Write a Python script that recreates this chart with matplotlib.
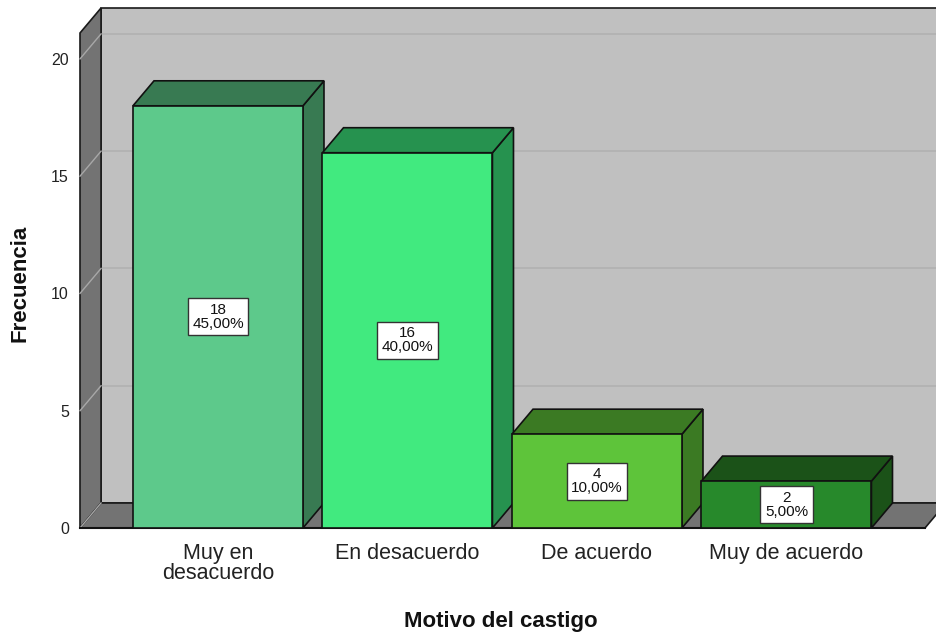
import matplotlib.pyplot as plt
from matplotlib.patches import Polygon

plt.rcParams['font.family'] = ['Liberation Sans', 'DejaVu Sans']

# data
categorias = ['Muy en\ndesacuerdo', 'En desacuerdo', 'De acuerdo', 'Muy de acuerdo']
frecuencias = [18, 16, 4, 2]
porcentajes = ['45,00%', '40,00%', '10,00%', '5,00%']
ticks_y = [0, 5, 10, 15, 20]

frente = ['#5dc98b', '#41ea7f', '#5ec43a', '#27892b']
lado = ['#387a52', '#26924f', '#3b7a23', '#1b5218']

# 3d look: depth offsets in data units
dx, dy = 0.111, 1.066
x0, x1 = -0.728, 3.731
ytop = 22.17
ancho = 0.897

fig = plt.figure(figsize=(9.36, 6.35), dpi=100)
ax = fig.add_axes([80 / 936, 107 / 635, 856 / 936, 520 / 635])
ax.set_xlim(x0, x0 + 856 / 189.5)
ax.set_ylim(0, ytop)
for s in ax.spines.values():
    s.set_visible(False)

# walls and floor
pared = Polygon([(x0 + dx, dy), (x1 + dx + 0.2, dy), (x1 + dx + 0.2, ytop), (x0 + dx, ytop)],
                closed=True, fc='#c0c0c0', ec='#1a1a1a', lw=1.2, clip_on=False, zorder=1)
ax.add_patch(pared)
izq = Polygon([(x0, 0), (x0 + dx, dy), (x0 + dx, ytop), (x0, ytop - dy)],
              closed=True, fc='#737373', ec='#1a1a1a', lw=1.2, clip_on=False, zorder=2)
ax.add_patch(izq)
suelo = Polygon([(x0, 0), (x1, 0), (x1 + dx, dy), (x0 + dx, dy)],
                closed=True, fc='#737373', ec='#1a1a1a', lw=1.2, clip_on=False, zorder=2)
ax.add_patch(suelo)

for v in ticks_y[1:]:
    ax.plot([x0 + dx, x1 + dx + 0.2], [v + dy, v + dy], color='#b2b2b2', lw=1.3, zorder=1.5, clip_on=False)
    ax.plot([x0, x0 + dx], [v, v + dy], color='#a8a8a8', lw=1.0, zorder=2.5, clip_on=False)
ax.plot([x0, x0 + dx], [0, dy], color='#a8a8a8', lw=1.0, zorder=2.5, clip_on=False)

# bars
for i, (f, p) in enumerate(zip(frecuencias, porcentajes)):
    a, b = i - ancho / 2, i + ancho / 2
    z = 5 + i
    ax.add_patch(Polygon([(b, 0), (b + dx, dy), (b + dx, f + dy), (b, f)],
                         closed=True, fc=lado[i], ec='#111111', lw=1.2, zorder=z))
    ax.add_patch(Polygon([(a, f), (a + dx, f + dy), (b + dx, f + dy), (b, f)],
                         closed=True, fc=lado[i], ec='#111111', lw=1.2, zorder=z))
    ax.bar(i, f, width=ancho, color=frente[i], edgecolor='#111111', lw=1.2, zorder=z)
    ax.text(i, f / 2, '%d\n%s' % (f, p), ha='center', va='center', fontsize=11,
            linespacing=1.0, zorder=20, color='#111111',
            bbox=dict(boxstyle='square,pad=0.3', fc='white', ec='#333333', lw=1))

ax.plot([x0, x1], [0, 0], color='#111111', lw=1.5, zorder=4, clip_on=False)

ax.set_xticks(range(len(categorias)))
ax.set_xticklabels(categorias, fontsize=15.5, linespacing=0.95)
ax.tick_params(axis='x', length=0, pad=11, colors='#222222')
ax.set_yticks(ticks_y)
ax.set_yticklabels([str(t) for t in ticks_y], fontsize=11.5)
ax.tick_params(axis='y', length=0, pad=8, colors='#222222')

fig.text(501 / 936, 1 - 622 / 635, 'Motivo del castigo', ha='center', va='center',
         fontsize=16, fontweight='bold', color='#111111')
fig.text(20 / 936, 1 - 283 / 635, 'Frecuencia', ha='center', va='center', rotation=90,
         fontsize=16, fontweight='bold', color='#111111')

fig.savefig('out.png', dpi=100)
